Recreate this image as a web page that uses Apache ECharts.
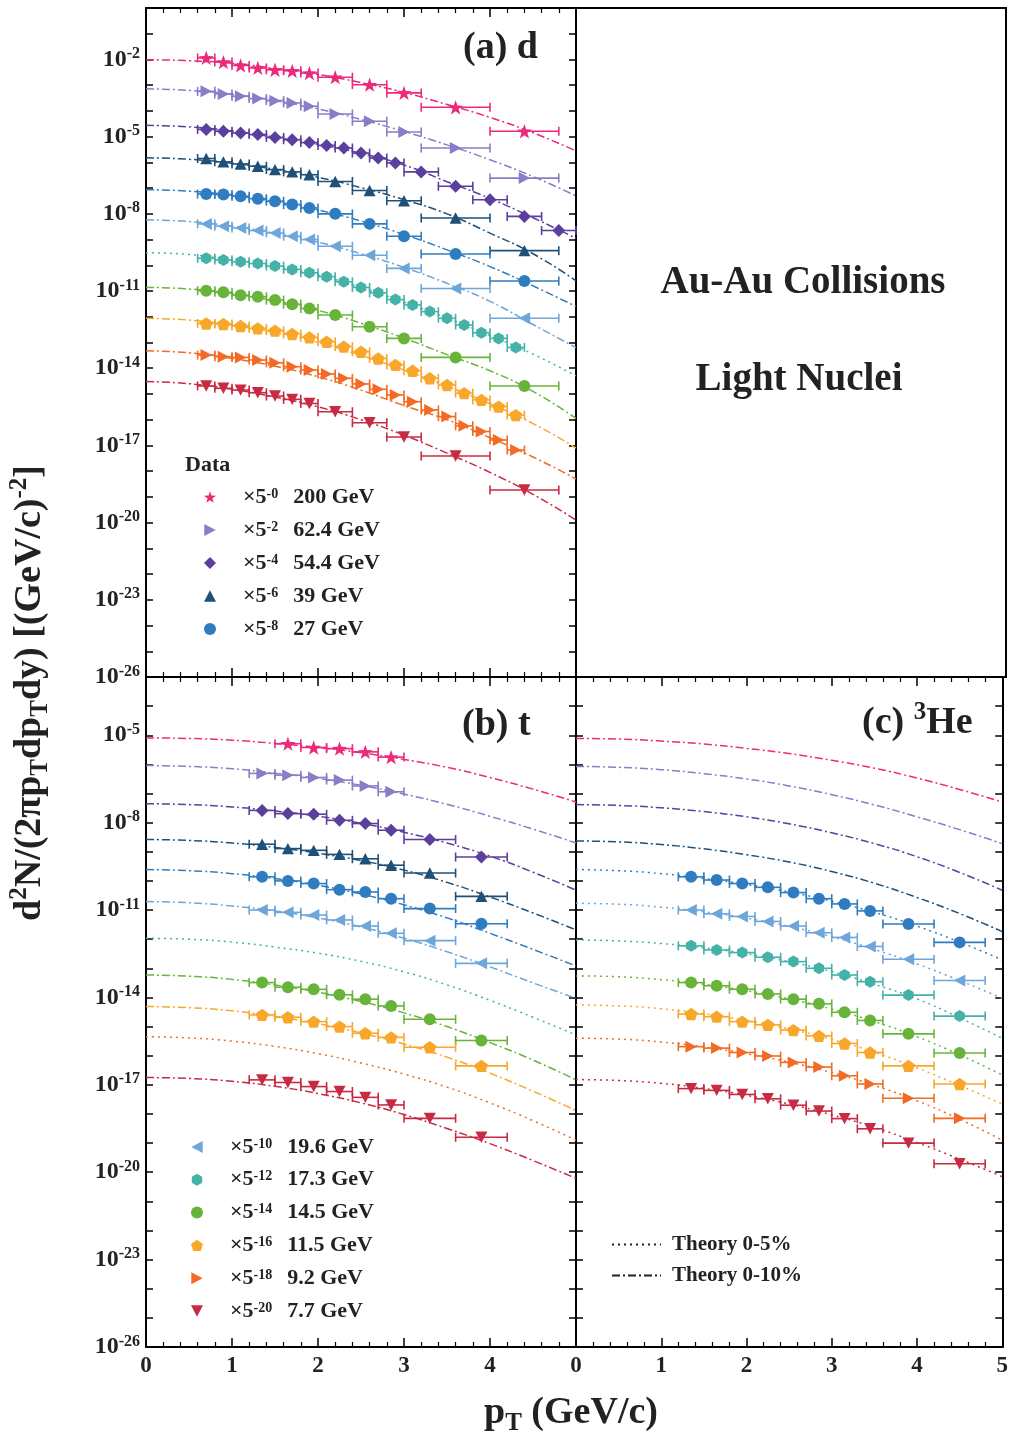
<!DOCTYPE html>
<html><head><meta charset="utf-8">
<script src="https://cdn.jsdelivr.net/npm/echarts@6/dist/echarts.min.js"></script>
<style>html,body{margin:0;padding:0;background:#fff}#c{width:1011px;height:1440px}</style>
</head><body><div id="c"></div>
<script>
// ---------------- DATA (yields stored as log10 values) ----------------
const energies = ['200 GeV','62.4 GeV','54.4 GeV','39 GeV','27 GeV','19.6 GeV','17.3 GeV','14.5 GeV','11.5 GeV','9.2 GeV','7.7 GeV'];
const scalePowers = [0,2,4,6,8,10,12,14,16,18,20];
const xTicks = [0,1,2,3,4,5];
const pTGrid = [0,0.5,1,1.5,2,2.5,3,3.5,4,4.5,5];

// deuteron pT bins (centre, half width)
const dPtStd = [0.7,0.9,1.1,1.3,1.5,1.7,1.9,2.2,2.6,3.0,3.6,4.4];
const dPtStdErr = [0.1,0.1,0.1,0.1,0.1,0.1,0.1,0.2,0.2,0.2,0.4,0.4];
const dPtFine = [0.7,0.9,1.1,1.3,1.5,1.7,1.9,2.1,2.3,2.5,2.7,2.9,3.1,3.3,3.5,3.7,3.9,4.1,4.3];
const dPtFineErr = [0.1,0.1,0.1,0.1,0.1,0.1,0.1,0.1,0.1,0.1,0.1,0.1,0.1,0.1,0.1,0.1,0.1,0.1,0.1];
const dPt544 = [0.7,0.9,1.1,1.3,1.5,1.7,1.9,2.1,2.3,2.5,2.7,2.9,3.2,3.6,4.0,4.4,4.8];
const dPt544Err = [0.1,0.1,0.1,0.1,0.1,0.1,0.1,0.1,0.1,0.1,0.1,0.1,0.2,0.2,0.2,0.2,0.2];

// (a) deuteron data, log10 yield (scaled)
const d200 = [-1.94,-2.10,-2.23,-2.33,-2.40,-2.44,-2.53,-2.69,-2.98,-3.30,-3.86,-4.79];
const d624 = [-3.24,-3.34,-3.43,-3.52,-3.60,-3.69,-3.82,-4.12,-4.40,-4.82,-5.44,-6.61];
const d544 = [-4.72,-4.79,-4.86,-4.92,-5.03,-5.12,-5.23,-5.34,-5.44,-5.64,-5.83,-6.02,-6.37,-6.93,-7.45,-8.10,-8.65];
const d39  = [-5.85,-5.98,-6.06,-6.15,-6.28,-6.37,-6.48,-6.74,-7.09,-7.49,-8.16,-9.43];
const d27  = [-7.23,-7.25,-7.32,-7.41,-7.51,-7.64,-7.77,-8.00,-8.39,-8.87,-9.56,-10.61];
const d196 = [-8.39,-8.48,-8.55,-8.65,-8.74,-8.87,-9.00,-9.26,-9.61,-10.12,-10.90,-12.06];
const d173 = [-9.73,-9.79,-9.86,-9.93,-10.03,-10.16,-10.29,-10.44,-10.64,-10.86,-11.07,-11.33,-11.54,-11.80,-12.06,-12.32,-12.62,-12.84,-13.19];
const d145 = [-10.99,-11.05,-11.16,-11.22,-11.35,-11.51,-11.68,-11.93,-12.39,-12.84,-13.58,-14.69];
const d115 = [-12.26,-12.28,-12.36,-12.45,-12.54,-12.67,-12.80,-12.97,-13.16,-13.36,-13.62,-13.87,-14.10,-14.39,-14.65,-14.97,-15.23,-15.49,-15.82];
const d92  = [-13.49,-13.55,-13.58,-13.68,-13.79,-13.94,-14.07,-14.22,-14.39,-14.61,-14.82,-15.04,-15.30,-15.62,-15.88,-16.24,-16.46,-16.79,-17.18];
const d77  = [-14.69,-14.78,-14.85,-14.95,-15.08,-15.21,-15.37,-15.69,-16.12,-16.67,-17.41,-18.73];

// (a) theory curves on pTGrid
const thA200 = [-2.01,-2.05,-2.15,-2.35,-2.58,-2.90,-3.28,-3.75,-4.25,-4.85,-5.55];
const thA624 = [-3.14,-3.20,-3.35,-3.60,-3.92,-4.33,-4.80,-5.32,-5.90,-6.55,-7.30];
const thA544 = [-4.56,-4.62,-4.78,-5.02,-5.30,-5.65,-6.10,-6.75,-7.40,-8.15,-8.95];
const thA39  = [-5.82,-5.88,-6.03,-6.27,-6.58,-6.98,-7.45,-8.00,-8.75,-9.55,-10.60];
const thA27  = [-7.06,-7.12,-7.28,-7.52,-7.85,-8.28,-8.80,-9.40,-10.05,-10.80,-11.60];
const thA196 = [-8.23,-8.30,-8.48,-8.75,-9.10,-9.55,-10.08,-10.70,-11.40,-12.30,-13.20];
const thA173 = [-9.51,-9.58,-9.80,-10.05,-10.38,-10.87,-11.43,-12.05,-12.73,-13.45,-14.30];
const thA145 = [-10.86,-10.92,-11.10,-11.38,-11.75,-12.25,-12.83,-13.47,-14.10,-14.90,-15.95];
const thA115 = [-12.06,-12.13,-12.33,-12.60,-13.00,-13.50,-14.07,-14.70,-15.38,-16.15,-17.10];
const thA92  = [-13.32,-13.40,-13.62,-13.92,-14.33,-14.85,-15.45,-16.00,-16.70,-17.45,-18.30];
const thA77  = [-14.52,-14.60,-14.82,-15.12,-15.50,-16.00,-16.60,-17.30,-18.05,-18.90,-19.90];

// (b) triton pT bins
const tPt200 = [1.65,1.95,2.25,2.55,2.85];
const tPt200Err = [0.15,0.15,0.15,0.15,0.15];
const tPt624 = [1.35,1.65,1.95,2.25,2.55,2.85];
const tPt624Err = [0.15,0.15,0.15,0.15,0.15,0.15];
const tPt = [1.35,1.65,1.95,2.25,2.55,2.85,3.3,3.9];
const tPtErr = [0.15,0.15,0.15,0.15,0.15,0.15,0.3,0.3];
// (b) triton data
const t200 = [-5.29,-5.42,-5.46,-5.57,-5.75];
const t624 = [-6.31,-6.37,-6.45,-6.54,-6.74,-6.94];
const t544 = [-7.58,-7.69,-7.71,-7.92,-8.03,-8.26,-8.58,-9.18];
const t39  = [-8.74,-8.89,-8.95,-9.09,-9.24,-9.46,-9.73,-10.53];
const t27  = [-9.86,-10.00,-10.09,-10.30,-10.38,-10.61,-10.95,-11.47];
const t196 = [-11.00,-11.08,-11.17,-11.34,-11.55,-11.80,-12.05,-12.83];
const t145 = [-13.49,-13.65,-13.72,-13.91,-14.06,-14.29,-14.75,-15.48];
const t115 = [-14.60,-14.68,-14.83,-15.00,-15.23,-15.37,-15.71,-16.35];
const t77  = [-16.83,-16.92,-17.06,-17.23,-17.43,-17.69,-18.15,-18.80];
// (b) theory
const thB200 = [-5.09,-5.11,-5.17,-5.28,-5.42,-5.60,-5.83,-6.10,-6.45,-6.85,-7.29];
const thB624 = [-6.04,-6.07,-6.15,-6.30,-6.48,-6.72,-7.02,-7.37,-7.78,-8.22,-8.70];
const thB544 = [-7.35,-7.38,-7.46,-7.60,-7.78,-8.02,-8.33,-8.70,-9.15,-9.70,-10.32];
const thB39  = [-8.58,-8.61,-8.70,-8.85,-9.05,-9.30,-9.63,-10.05,-10.55,-11.10,-11.68];
const thB27  = [-9.61,-9.65,-9.75,-9.92,-10.15,-10.45,-10.82,-11.27,-11.80,-12.35,-12.92];
const thB196 = [-10.71,-10.75,-10.86,-11.03,-11.27,-11.58,-11.97,-12.43,-12.95,-13.50,-14.03];
const thB173 = [-11.97,-12.00,-12.10,-12.27,-12.48,-12.76,-13.12,-13.57,-14.10,-14.68,-15.29];
const thB145 = [-13.23,-13.27,-13.38,-13.57,-13.82,-14.14,-14.53,-15.00,-15.55,-16.15,-16.83];
const thB115 = [-14.31,-14.35,-14.46,-14.65,-14.90,-15.22,-15.60,-16.05,-16.60,-17.22,-17.88];
const thB92  = [-15.35,-15.39,-15.50,-15.68,-15.93,-16.25,-16.63,-17.08,-17.62,-18.23,-18.90];
const thB77  = [-16.75,-16.78,-16.88,-17.05,-17.30,-17.62,-18.02,-18.50,-19.02,-19.60,-20.21];

// (c) 3He pT bins
const hPt = [1.35,1.65,1.95,2.25,2.55,2.85,3.15,3.45,3.9,4.5];
const hPtErr = [0.15,0.15,0.15,0.15,0.15,0.15,0.15,0.15,0.3,0.3];
// (c) 3He data
const h27  = [-9.86,-9.97,-10.09,-10.22,-10.40,-10.61,-10.79,-11.03,-11.48,-12.11];
const h196 = [-11.00,-11.13,-11.22,-11.39,-11.55,-11.78,-11.94,-12.25,-12.69,-13.42];
const h173 = [-12.23,-12.37,-12.46,-12.62,-12.77,-13.00,-13.23,-13.46,-13.92,-14.64];
const h145 = [-13.49,-13.60,-13.72,-13.88,-14.06,-14.22,-14.51,-14.79,-15.25,-15.91];
const h115 = [-14.57,-14.66,-14.83,-14.94,-15.12,-15.32,-15.58,-15.89,-16.35,-16.97];
const h92  = [-15.69,-15.74,-15.89,-16.01,-16.23,-16.39,-16.69,-16.97,-17.46,-18.15];
const h77  = [-17.13,-17.19,-17.33,-17.48,-17.70,-17.90,-18.16,-18.51,-19.00,-19.71];
// (c) theory
const thC200 = [-5.11,-5.13,-5.20,-5.30,-5.45,-5.63,-5.86,-6.13,-6.47,-6.86,-7.29];
const thC624 = [-6.07,-6.10,-6.18,-6.32,-6.50,-6.74,-7.04,-7.39,-7.80,-8.24,-8.72];
const thC544 = [-7.38,-7.41,-7.49,-7.62,-7.80,-8.04,-8.35,-8.72,-9.17,-9.71,-10.32];
const thC39  = [-8.63,-8.66,-8.75,-8.90,-9.10,-9.35,-9.68,-10.08,-10.57,-11.12,-11.74];
const thC27  = [-9.61,-9.65,-9.75,-9.92,-10.12,-10.38,-10.70,-11.08,-11.55,-12.10,-12.71];
const thC196 = [-10.77,-10.80,-10.90,-11.06,-11.28,-11.56,-11.92,-12.35,-12.85,-13.42,-14.03];
const thC173 = [-12.03,-12.06,-12.15,-12.30,-12.50,-12.77,-13.12,-13.55,-14.05,-14.70,-15.40];
const thC145 = [-13.26,-13.29,-13.39,-13.55,-13.77,-14.05,-14.40,-14.83,-15.35,-15.97,-16.66];
const thC115 = [-14.26,-14.29,-14.39,-14.56,-14.79,-15.08,-15.44,-15.88,-16.42,-17.02,-17.66];
const thC92  = [-15.40,-15.43,-15.53,-15.70,-15.93,-16.22,-16.58,-17.02,-17.55,-18.18,-18.90];
const thC77  = [-16.82,-16.85,-16.95,-17.12,-17.36,-17.66,-18.03,-18.46,-18.98,-19.55,-20.15];

const theoryNames = ['Theory 0-5%','Theory 0-10%'];

// ---------------- STYLE ----------------
const FONT = "'Liberation Serif','Times New Roman',serif";
const colors = ['#EC2A7C','#8C7BC6','#5B3F9C','#1F5078','#2F7DC0','#6EA6DA','#44B2A6','#68B43B','#F8A72A','#F26A24','#C82A43'];
const STAR = 'path://M0,-10 L2.35,-3.24 L9.51,-3.09 L3.8,1.24 L5.88,8.09 L0,4 L-5.88,8.09 L-3.8,1.24 L-9.51,-3.09 L-2.35,-3.24 Z';
const HEX = 'path://M0,-10 L8.66,-5 L8.66,5 L0,10 L-8.66,5 L-8.66,-5 Z';
const PENT = 'path://M0,-10 L9.51,-3.09 L5.88,8.09 L-5.88,8.09 L-9.51,-3.09 Z';
const TRI_R = 'path://M-9,-10 L10,0 L-9,10 Z';
const TRI_L = 'path://M9,-10 L-10,0 L9,10 Z';
const TRI_D = 'path://M-10,-9 L10,-9 L0,10 Z';
const TRI_U = 'path://M-10,9 L10,9 L0,-10 Z';
const symbols = [STAR,TRI_R,'diamond',TRI_U,'circle',TRI_L,HEX,'circle',PENT,TRI_R,TRI_D];
const sizes = [15,12,13,12,12,12,12,12,13,12,12];
const DOT = [2,4];
const DASHDOT = [8,3,2,3];

// ---------------- PANELS ----------------
const panelA = {
  axis: 0,
  data: [[dPtStd,dPtStdErr,d200],[dPtStd,dPtStdErr,d624],[dPt544,dPt544Err,d544],[dPtStd,dPtStdErr,d39],[dPtStd,dPtStdErr,d27],[dPtStd,dPtStdErr,d196],[dPtFine,dPtFineErr,d173],[dPtStd,dPtStdErr,d145],[dPtFine,dPtFineErr,d115],[dPtFine,dPtFineErr,d92],[dPtStd,dPtStdErr,d77]],
  theory: [thA200,thA624,thA544,thA39,thA27,thA196,thA173,thA145,thA115,thA92,thA77],
  dotted: [0,0,0,0,0,0,1,0,0,0,0]
};
const panelB = {
  axis: 2,
  data: [[tPt200,tPt200Err,t200],[tPt624,tPt624Err,t624],[tPt,tPtErr,t544],[tPt,tPtErr,t39],[tPt,tPtErr,t27],[tPt,tPtErr,t196],null,[tPt,tPtErr,t145],[tPt,tPtErr,t115],null,[tPt,tPtErr,t77]],
  theory: [thB200,thB624,thB544,thB39,thB27,thB196,thB173,thB145,thB115,thB92,thB77],
  dotted: [0,0,0,0,0,0,1,0,0,1,0]
};
const panelC = {
  axis: 4,
  data: [null,null,null,null,[hPt,hPtErr,h27],[hPt,hPtErr,h196],[hPt,hPtErr,h173],[hPt,hPtErr,h145],[hPt,hPtErr,h115],[hPt,hPtErr,h92],[hPt,hPtErr,h77]],
  theory: [thC200,thC624,thC544,thC39,thC27,thC196,thC173,thC145,thC115,thC92,thC77],
  dotted: [0,0,0,0,1,1,1,1,1,1,1]
};

const series = [];
const lineSeries = [];
const errSeries = [];
[['a',panelA],['b',panelB],['c',panelC]].forEach(([tag,p]) => {
  p.theory.forEach((th,i) => {
    lineSeries.push({
      type:'line', name: energies[i] + ' theory ' + tag, xAxisIndex:p.axis, yAxisIndex:p.axis,
      data: pTGrid.map((x,j) => [x, th[j]]), smooth:0.5, symbol:'none', silent:true,
      lineStyle:{color:colors[i], width:1.5, type: p.dotted[i] ? DOT : DASHDOT}, z:2, animation:false
    });
  });
  p.data.forEach((ds,i) => {
    if (!ds) return;
    const [pt, err, y] = ds;
    const col = colors[i];
    errSeries.push({
      type:'custom', name: energies[i] + ' err ' + tag, xAxisIndex:p.axis, yAxisIndex:p.axis, silent:true, z:3,
      data: pt.map((x,j) => [x, y[j], err[j]]), encode:{x:0,y:1},
      renderItem: (params, api) => {
        const x = api.value(0), yy = api.value(1), e = api.value(2);
        const a = api.coord([x - e, yy]), b = api.coord([x + e, yy]);
        const c = 4.5, st = {stroke: col, lineWidth: 1.6};
        return {type:'group', children:[
          {type:'line', shape:{x1:a[0],y1:a[1],x2:b[0],y2:b[1]}, style:st},
          {type:'line', shape:{x1:a[0],y1:a[1]-c,x2:a[0],y2:a[1]+c}, style:st},
          {type:'line', shape:{x1:b[0],y1:b[1]-c,x2:b[0],y2:b[1]+c}, style:st}
        ]};
      }
    });
    series.push({
      type:'scatter', name: energies[i], xAxisIndex:p.axis, yAxisIndex:p.axis,
      data: pt.map((x,j) => [x, y[j]]), symbol: symbols[i], symbolKeepAspect:true,
      symbolSize: sizes[i], itemStyle:{color: col, opacity:1}, z:5, silent:true
    });
  });
});
// legend-only series for theory line styles
const legendLines = [
  {type:'line', name: theoryNames[0], xAxisIndex:4, yAxisIndex:4, data:[], symbol:'none', itemStyle:{color:'#222', opacity:0}, lineStyle:{color:'#222', width:1.5, type:DOT}},
  {type:'line', name: theoryNames[1], xAxisIndex:4, yAxisIndex:4, data:[], symbol:'none', itemStyle:{color:'#222', opacity:0}, lineStyle:{color:'#222', width:1.5, type:DASHDOT}}
];

// ---------------- AXES ----------------
const grids = [
  {left:146, top:8, width:430, height:669},
  {left:146, top:677, width:430, height:670},
  {left:576, top:677, width:430, height:670}
];
const lineBlack = {color:'#000', width:2};
function xAxis(gi, pos, showLabel, showMax) {
  return {
    type:'value', gridIndex:gi, position:pos, min:0, max:5, interval:1,
    axisLine:{show:true, onZero:false, lineStyle:lineBlack},
    axisTick:{show:true, inside:true, length:9, lineStyle:{color:'#000', width:1.5}},
    minorTick:{show:true, splitNumber:5, length:5, lineStyle:{color:'#000', width:1.2}},
    splitLine:{show:false}, minorSplitLine:{show:false},
    axisLabel:{show:showLabel, margin:8, color:'#222', fontFamily:FONT, fontWeight:'bold', fontSize:23,
      showMaxLabel:showMax, formatter: v => String(xTicks[Math.round(v)])}
  };
}
const yRich = {
  b:{fontSize:24, fontWeight:'bold', fontFamily:FONT, color:'#222', lineHeight:27},
  s:{fontSize:16, fontWeight:'bold', fontFamily:FONT, color:'#222', verticalAlign:'top', lineHeight:16}
};
function yAxis(gi, pos, max, showLabel) {
  return {
    type:'value', gridIndex:gi, position:pos, min:-26, max:max, interval:1,
    axisLine:{show:true, onZero:false, lineStyle:lineBlack},
    axisTick:{show:true, inside:true, length:7, lineStyle:{color:'#000', width:1.5}},
    splitLine:{show:false},
    axisLabel:{show:showLabel, interval:0, margin:6, rich:yRich,
      formatter: v => { const e = Math.round(v); return ((e + 26) % 3 === 0) ? '{b|10}{s|' + e + '}' : ''; }}
  };
}

// ---------------- LEGENDS ----------------
const legRich = {
  x:{fontSize:22, fontWeight:'bold', fontFamily:FONT, color:'#222', lineHeight:20, padding:[0,0,0,22]},
  s:{fontSize:14, fontWeight:'bold', fontFamily:FONT, color:'#222', lineHeight:12, verticalAlign:'top'},
  g:{fontSize:22, fontWeight:'bold', fontFamily:FONT, color:'#222', lineHeight:20, padding:[0,0,0,15]}
};
const legFmt = name => '{x|×5}{s|-' + scalePowers[energies.indexOf(name)] + '}{g|' + name + '}';

const subRich = {
  sub:{fontSize:25, fontWeight:'bold', fontFamily:FONT, fill:'#222', verticalAlign:'bottom', lineHeight:25},
  sup:{fontSize:25, fontWeight:'bold', fontFamily:FONT, fill:'#222', verticalAlign:'top', lineHeight:25},
  n:{fontSize:38, fontWeight:'bold', fontFamily:FONT, fill:'#222', lineHeight:46}
};
function txt(x, y, text, size, align, extra) {
  return Object.assign({type:'text', x:x, y:y, silent:true, z:10,
    style:{text:text, fontSize:size, fontWeight:'bold', fontFamily:FONT, fill:'#222',
      align:align, textAlign:align, verticalAlign:'middle', textVerticalAlign:'middle'}}, extra || {});
}

const option = {
  animation:false,
  backgroundColor:'#fff',
  grid: grids,
  xAxis: [xAxis(0,'bottom',false,false), xAxis(0,'top',false,false), xAxis(1,'bottom',true,false), xAxis(1,'top',false,false), xAxis(2,'bottom',true,true), xAxis(2,'top',false,false)],
  yAxis: [yAxis(0,'left',0,true), yAxis(0,'right',0,false), yAxis(1,'left',-3,true), yAxis(1,'right',-3,false), yAxis(2,'left',-3,false), yAxis(2,'right',-3,false)],
  legend: [
    {data: energies.slice(0,5), orient:'vertical', left:204, top:486, padding:0, itemWidth:12, itemHeight:12, itemGap:11, selectedMode:false, formatter:legFmt, textStyle:{rich:legRich}},
    {data: energies.slice(5), orient:'vertical', left:191, top:1136, padding:0, itemWidth:12, itemHeight:12, itemGap:10.8, selectedMode:false, formatter:legFmt, textStyle:{rich:legRich}},
    {data: theoryNames, orient:'vertical', left:611, top:1234, padding:0, itemWidth:49, itemHeight:14, itemGap:10, selectedMode:false,
      itemStyle:{opacity:0},
      textStyle:{fontSize:21, fontWeight:'bold', fontFamily:FONT, color:'#222', padding:[0,0,0,6]}}
  ],
  graphic: [
    {type:'rect', shape:{x:576, y:8, width:430, height:669}, style:{fill:'none', stroke:'#000', lineWidth:2}, silent:true},
    txt(463, 48, '{n|(a) d}', 38, 'left'),
    txt(462, 725, '{n|(b) t}', 38, 'left'),
    txt(862, 723, '{n|(c) }{sup|3}{n|He}', 38, 'left'),
    txt(803, 283, '{n|Au-Au Collisions}', 39, 'center'),
    txt(799, 380, '{n|Light Nuclei}', 39, 'center'),
    txt(185, 465, 'Data', 22, 'left'),
    txt(571, 1413, '{n|p}{sub|T}{n| (GeV/c)}', 38, 'center'),
    txt(30, 693, '{n|d}{sup|2}{n|N/(2πp}{sub|T}{n|dp}{sub|T}{n|dy) [(GeV/c)}{sup|-2}{n|]}', 38, 'center', {rotation: Math.PI/2})
  ],
  series: lineSeries.concat(errSeries, series, legendLines)
};
option.graphic.forEach(g => { if (g.type === 'text') g.style.rich = subRich; });
option.graphic[4].style.rich = {n:{fontSize:39, fontWeight:'bold', fontFamily:FONT, fill:'#222'}};
option.graphic[5].style.rich = {n:{fontSize:39, fontWeight:'bold', fontFamily:FONT, fill:'#222'}};

const chart = echarts.init(document.getElementById('c'), null, {renderer:'canvas'});
chart.setOption(option);
</script></body></html>
